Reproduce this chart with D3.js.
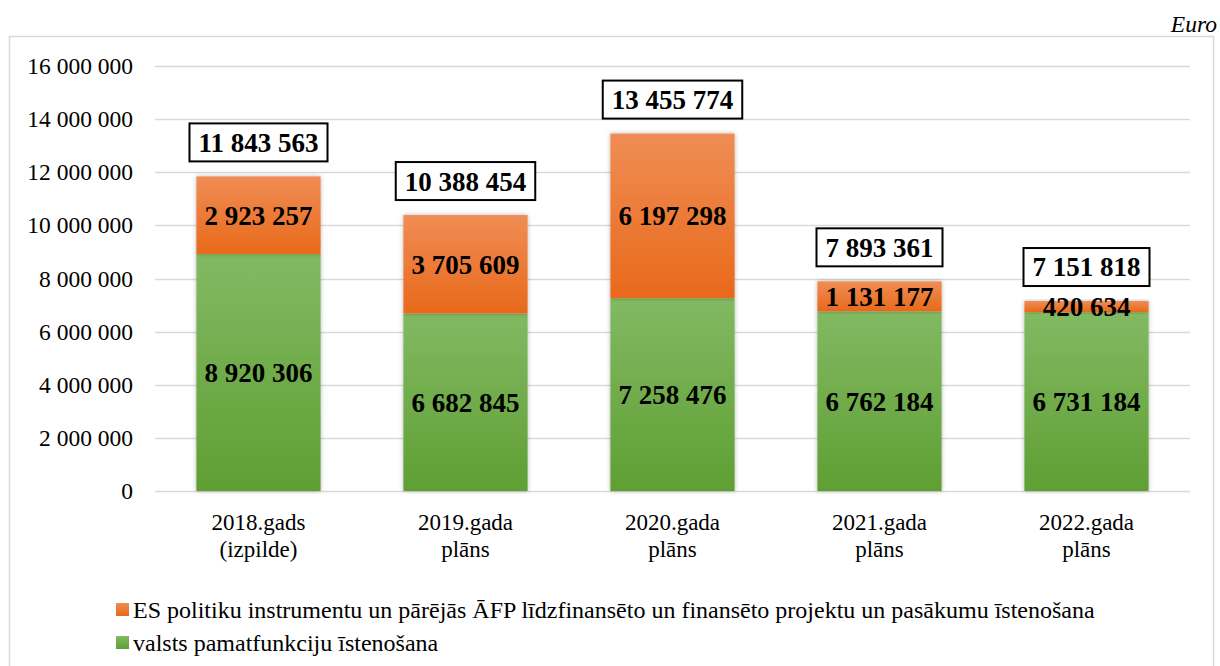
<!DOCTYPE html>
<html>
<head>
<meta charset="utf-8">
<script src="https://cdn.jsdelivr.net/npm/d3@7"></script>
<style>
  body { margin: 0; background: #fff; }
  text { font-family: "Liberation Serif", "Times New Roman", serif; fill: #000; }
</style>
</head>
<body>
<div id="chart"></div>
<script>
// data
var categories = [["2018.gads", "(izpilde)"], ["2019.gada", "plāns"], ["2020.gada", "plāns"], ["2021.gada", "plāns"], ["2022.gada", "plāns"]];
var basic = [8920306, 6682845, 7258476, 6762184, 6731184];
var eu = [2923257, 3705609, 6197298, 1131177, 420634];
var totals = [11843563, 10388454, 13455774, 7893361, 7151818];
var yTicks = [0, 2000000, 4000000, 6000000, 8000000, 10000000, 12000000, 14000000, 16000000];
var legendLabels = ["ES politiku instrumentu un pārējās ĀFP līdzfinansēto un finansēto projektu un pasākumu īstenošana", "valsts pamatfunkciju īstenošana"];

var W = 1220, H = 666;
var margin = { left: 155, right: 30, top: 66, bottom: 175 };

var svg = d3.select("#chart").append("svg")
	.attr("width", W)
	.attr("height", H);

var defs = svg.append("defs");

// gradients for bar fills
var gOr = defs.append("linearGradient").attr("id", "gradOrange")
	.attr("x1", 0).attr("y1", 0).attr("x2", 0).attr("y2", 1);
gOr.append("stop").attr("offset", "0%").attr("stop-color", "#f08d55");
gOr.append("stop").attr("offset", "100%").attr("stop-color", "#e8691a");

var gGr = defs.append("linearGradient").attr("id", "gradGreen")
	.attr("x1", 0).attr("y1", 0).attr("x2", 0).attr("y2", 1);
gGr.append("stop").attr("offset", "0%").attr("stop-color", "#82b963");
gGr.append("stop").attr("offset", "100%").attr("stop-color", "#5f9f33");

var shadow = defs.append("filter").attr("id", "shadow")
	.attr("x", "-10%").attr("y", "-10%").attr("width", "120%").attr("height", "120%");
shadow.append("feDropShadow")
	.attr("dx", 0).attr("dy", 0).attr("stdDeviation", 2)
	.attr("flood-color", "#000").attr("flood-opacity", 0.3);

// outer frame
svg.append("rect")
	.attr("x", 9.5).attr("y", 36.5)
	.attr("width", 1204).attr("height", 650)
	.attr("fill", "none").attr("stroke", "#d9d9d9").attr("stroke-width", 1.5);

svg.append("text")
	.attr("x", 1217).attr("y", 32)
	.attr("text-anchor", "end")
	.style("font-style", "italic")
	.style("font-size", "23.5px")
	.text("Euro");

var x = d3.scaleBand()
	.domain(d3.range(categories.length))
	.range([margin.left, W - margin.right])
	.paddingInner(0.4)
	.paddingOuter(0.2);

var y = d3.scaleLinear()
	.domain([0, 16000000])
	.range([H - margin.bottom, margin.top]);

var fmt = function (v) { return d3.format(",")(v).replace(/,/g, " "); };

// gridlines
svg.append("g").selectAll("line")
	.data(yTicks)
	.enter().append("line")
	.attr("x1", margin.left).attr("x2", W - margin.right)
	.attr("y1", function (d) { return Math.round(y(d)) + 0.5; })
	.attr("y2", function (d) { return Math.round(y(d)) + 0.5; })
	.attr("stroke", "#d9d9d9").attr("stroke-width", 1.5);

// y axis labels
var yAxis = d3.axisLeft(y).tickValues(yTicks).tickFormat(fmt).tickSize(0).tickPadding(22);
var yg = svg.append("g").attr("transform", "translate(" + margin.left + ",0)").call(yAxis);
yg.select(".domain").remove();
yg.selectAll("text").style("font-size", "23.5px").attr("font-family", null).attr("fill", "#000");

// bars
var bars = svg.append("g").selectAll("g")
	.data(categories)
	.enter().append("g");

bars.append("rect")
	.attr("x", function (d, i) { return x(i); })
	.attr("width", x.bandwidth())
	.attr("y", function (d, i) { return y(basic[i]); })
	.attr("height", function (d, i) { return y(0) - y(basic[i]); })
	.attr("fill", "url(#gradGreen)")
	.attr("filter", "url(#shadow)");

bars.append("rect")
	.attr("x", function (d, i) { return x(i); })
	.attr("width", x.bandwidth())
	.attr("y", function (d, i) { return y(basic[i] + eu[i]); })
	.attr("height", function (d, i) { return y(basic[i]) - y(basic[i] + eu[i]); })
	.attr("fill", "url(#gradOrange)")
	.attr("filter", "url(#shadow)");

// segment labels
bars.append("text")
	.attr("x", function (d, i) { return x(i) + x.bandwidth() / 2; })
	.attr("y", function (d, i) { return (y(0) + y(basic[i])) / 2; })
	.attr("dy", "0.35em")
	.attr("text-anchor", "middle")
	.style("font-weight", "bold").style("font-size", "27px")
	.text(function (d, i) { return fmt(basic[i]); });

bars.append("text")
	.attr("x", function (d, i) { return x(i) + x.bandwidth() / 2; })
	.attr("y", function (d, i) { return (y(basic[i]) + y(basic[i] + eu[i])) / 2; })
	.attr("dy", "0.35em")
	.attr("text-anchor", "middle")
	.style("font-weight", "bold").style("font-size", "27px")
	.text(function (d, i) { return fmt(eu[i]); });

// total labels in boxes
var tot = bars.append("g")
	.attr("transform", function (d, i) {
		return "translate(" + (x(i) + x.bandwidth() / 2) + "," + (y(totals[i]) - 34) + ")";
	});

tot.append("text")
	.attr("text-anchor", "middle")
	.attr("dy", "0.35em")
	.style("font-weight", "bold").style("font-size", "27px")
	.text(function (d, i) { return fmt(totals[i]); })
	.each(function () {
		var bb = this.getBBox();
		d3.select(this.parentNode).insert("rect", "text")
			.attr("x", bb.x - 9).attr("y", -19)
			.attr("width", bb.width + 18).attr("height", 38)
			.attr("fill", "#fff").attr("stroke", "#000").attr("stroke-width", 2);
	});

// category labels
bars.append("text")
	.attr("text-anchor", "middle")
	.style("font-size", "23px")
	.each(function (d, i) {
		var t = d3.select(this);
		d.forEach(function (line, j) {
			t.append("tspan")
				.attr("x", x(i) + x.bandwidth() / 2)
				.attr("y", 530 + j * 27)
				.text(line);
		});
	});

// legend
var legendColors = ["url(#gradOrange)", "url(#gradGreen)"];
var leg = svg.append("g").selectAll("g")
	.data(legendLabels)
	.enter().append("g")
	.attr("transform", function (d, i) { return "translate(116," + (603 + i * 33) + ")"; });

leg.append("rect")
	.attr("width", 13).attr("height", 13)
	.attr("fill", function (d, i) { return legendColors[i]; });

leg.append("text")
	.attr("x", 17).attr("y", 7).attr("dy", "0.35em")
	.style("font-size", "24px")
	.text(function (d) { return d; });
</script>
</body>
</html>
